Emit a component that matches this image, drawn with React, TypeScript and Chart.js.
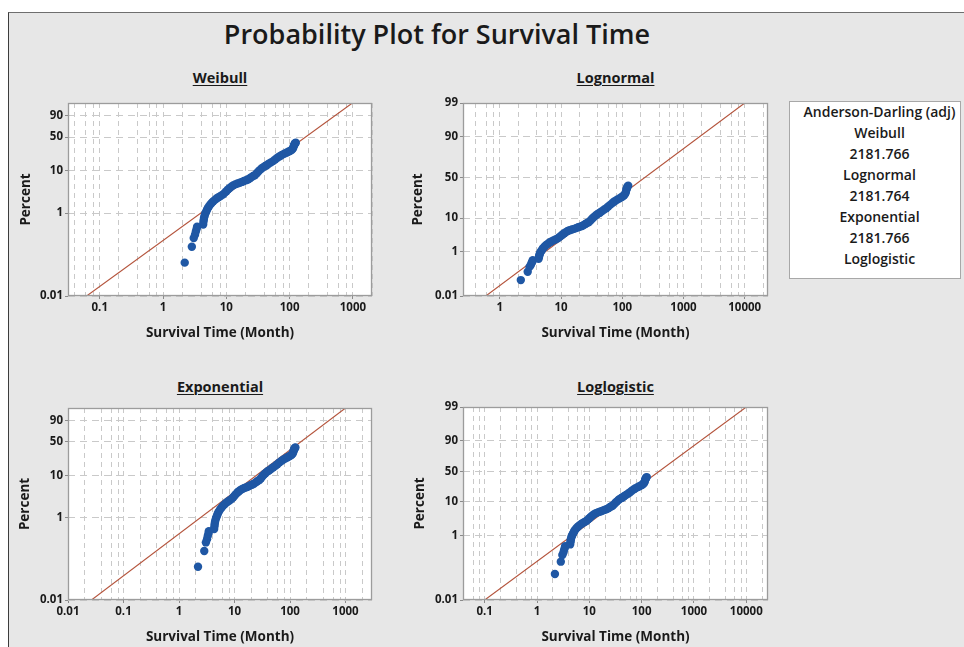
import React, { useEffect, useRef } from "react";
import { Chart, registerables, LinearScale } from "chart.js";

Chart.register(...registerables);

// ---------------- data ----------------
const SURVIVAL_TIME = [
  2.2, 2.85, 3.05, 3.2, 3.3, 3.4, 3.45,
  4.3, 4.35, 4.4, 4.45, 4.55, 4.65, 4.8, 4.95, 5.1, 5.3, 5.55, 5.85, 6.2, 6.6, 7.0, 7.5, 8.1, 8.8, 9.4,
  10.0, 10.6, 11.3, 12.0, 12.8, 13.8, 15.0, 16.3, 17.6, 19.0, 20.5, 22.0, 23.5, 25.0, 26.5, 28.1,
  30.0, 31.8, 33.7, 36.0, 38.5, 41.0, 43.0, 46.0, 50.0, 54.7, 59.0, 64.0, 69.7, 75.0, 82.0, 89.0,
  95.0, 101, 107, 111, 114, 116, 118, 120, 122, 125,
];
const PERCENT = [
  0.064, 0.155, 0.25, 0.3, 0.36, 0.42, 0.47,
  0.53, 0.62, 0.7, 0.78, 0.88, 0.98, 1.08, 1.2, 1.32, 1.45, 1.6, 1.75, 1.92, 2.08, 2.24, 2.4, 2.58, 2.78, 3.05,
  3.35, 3.66, 4.0, 4.3, 4.6, 4.85, 5.1, 5.3, 5.55, 5.85, 6.1, 6.35, 6.75, 7.2, 7.6, 7.9,
  8.7, 9.6, 10.4, 11.3, 12.2, 12.9, 13.3, 14.3, 15.4, 16.6, 18.0, 19.6, 21.2, 22.6, 24.0, 25.2,
  26.3, 27.3, 28.6, 30.0, 31.8, 34.3, 36.0, 37.5, 38.8, 39.7,
];

const MAIN_TITLE = "Probability Plot for Survival Time";
const X_TITLE = "Survival Time (Month)";
const Y_TITLE = "Percent";
const DISTRIBUTIONS = ["Weibull", "Lognormal", "Exponential", "Loglogistic"];
const AD_HEADER = "Anderson-Darling (adj)";
const AD_VALUES = ["2181.766", "2181.764", "2181.766"];

const Y_TICKS_SHORT = [0.01, 1, 10, 50, 90];
const Y_TICKS_LONG = [0.01, 1, 10, 50, 90, 99];
const X_TICKS_WEIBULL = [0.1, 1, 10, 100, 1000];
const X_TICKS_LOGNORMAL = [1, 10, 100, 1000, 10000];
const X_TICKS_EXPONENTIAL = [0.01, 0.1, 1, 10, 100, 1000];
const X_TICKS_LOGLOGISTIC = [0.1, 1, 10, 100, 1000, 10000];
const X_MINOR_MULTIPLIERS = [2, 4, 6, 8];

const X_RANGE_WEIBULL = [0.0315, 2000];
const X_RANGE_LOGNORMAL = [0.25, 24000];
const X_RANGE_EXPONENTIAL = [0.01, 3000];
const X_RANGE_LOGLOGISTIC = [0.0385, 26000];
const Y_RANGE = [0.01, 99];

// fitted lines (time, percent) at both ends
const FIT_WEIBULL_TIME = [0.062, 980];
const FIT_WEIBULL_PERCENT = [0.01, 99];
const FIT_LOGNORMAL_TIME = [0.59, 10000];
const FIT_LOGNORMAL_PERCENT = [0.01, 99];
const FIT_EXPONENTIAL_TIME = [0.0265, 1000];
const FIT_EXPONENTIAL_PERCENT = [0.01, 99];
const FIT_LOGLOGISTIC_TIME = [0.1, 10000];
const FIT_LOGLOGISTIC_PERCENT = [0.01, 99];

// ---------------- styles / layout ----------------
const FONT = "'Open Sans', 'Noto Sans', sans-serif";
const TEXT = "#1a1a1a";
const BG = "#e7e7e7";
const GRID = "#c9c9c9";
const FRAME = "#9c9c9c";
const POINT_COLOR = "#1f57a4";
const LINE_COLOR = "#b4533b";
const PAD_TOP = 10;
const PAD_RIGHT = 20;
const X_AXIS_HEIGHT = 45;
const AXIS_TITLE_SIZE = 13.5;
const TICK_SIZE = 11.5;

const LAYOUT = [
  { l: 68, r: 372, t: 103, b: 296, percentX: 26, titleY: 78.3 },
  { l: 463, r: 768, t: 103, b: 296, percentX: 418.5, titleY: 78.3 },
  { l: 68, r: 372, t: 408, b: 600, percentX: 25, titleY: 387.3 },
  { l: 463, r: 768, t: 407, b: 600, percentX: 420, titleY: 387.3 },
];

// ---------------- probability transforms ----------------
function normalQuantile(p: number): number {
  const a = [-3.969683028665376e1, 2.209460984245205e2, -2.759285104469687e2, 1.38357751867269e2, -3.066479806614716e1, 2.506628277459239];
  const b = [-5.447609879822406e1, 1.615858368580409e2, -1.556989798598866e2, 6.680131188771972e1, -1.328068155288572e1];
  const c = [-7.784894002430293e-3, -3.223964580411365e-1, -2.400758277161838, -2.549732539343734, 4.374664141464968, 2.938163982698783];
  const d = [7.784695709041462e-3, 3.224671290700398e-1, 2.445134137142996, 3.754408661907416];
  const pl = 0.02425;
  if (p < pl) {
    const q = Math.sqrt(-2 * Math.log(p));
    return (((((c[0] * q + c[1]) * q + c[2]) * q + c[3]) * q + c[4]) * q + c[5]) / ((((d[0] * q + d[1]) * q + d[2]) * q + d[3]) * q + 1);
  }
  if (p <= 1 - pl) {
    const q = p - 0.5;
    const r = q * q;
    return ((((((a[0] * r + a[1]) * r + a[2]) * r + a[3]) * r + a[4]) * r + a[5]) * q) / (((((b[0] * r + b[1]) * r + b[2]) * r + b[3]) * r + b[4]) * r + 1);
  }
  const q = Math.sqrt(-2 * Math.log(1 - p));
  return -(((((c[0] * q + c[1]) * q + c[2]) * q + c[3]) * q + c[4]) * q + c[5]) / ((((d[0] * q + d[1]) * q + d[2]) * q + d[3]) * q + 1);
}

const TRANSFORMS: Record<string, (p: number) => number> = {
  weibull: (p) => Math.log(-Math.log(1 - p / 100)),
  normal: (p) => normalQuantile(p / 100),
  logistic: (p) => Math.log(p / (100 - p)),
};

class ProbabilityScale extends LinearScale {
  static id = "probability";
  static defaults = {};
  determineDataLimits() {
    // @ts-ignore
    this.min = this.options.min;
    // @ts-ignore
    this.max = this.options.max;
  }
  buildTicks() {
    return [];
  }
  getPixelForValue(value: number) {
    // @ts-ignore
    const f = TRANSFORMS[this.options.probType];
    // @ts-ignore
    const lo = f(this.min);
    // @ts-ignore
    const hi = f(this.max);
    // @ts-ignore
    return this.getPixelForDecimal((f(value) - lo) / (hi - lo));
  }
  getValueForPixel(pixel: number) {
    // @ts-ignore
    const dec = this.getDecimalForPixel(pixel);
    // @ts-ignore
    let lo = this.min, hi = this.max;
    for (let i = 0; i < 50; i++) {
      const mid = (lo + hi) / 2;
      // @ts-ignore
      const dm = (this.getPixelForValue(mid) - this._startPixel) / this._length;
      // @ts-ignore
      const dd = this._reversePixels ? 1 - dm : dm;
      if (dd < dec) lo = mid; else hi = mid;
    }
    return (lo + hi) / 2;
  }
}
Chart.register(ProbabilityScale as any);

function buildLogTicks(min: number, max: number, majors: number[]) {
  const ticks: any[] = [];
  const k0 = Math.floor(Math.log10(min));
  const k1 = Math.ceil(Math.log10(max));
  for (let k = k0; k <= k1; k++) {
    for (const m of [1, ...X_MINOR_MULTIPLIERS]) {
      const v = m * Math.pow(10, k);
      if (v < min * 0.999 || v > max * 1.001) continue;
      const major = majors.find((t) => Math.abs(t - v) / t < 1e-6);
      ticks.push(major !== undefined ? { value: major, major: true } : { value: v, major: false });
    }
  }
  return ticks;
}

const PANELS = [
  { title: DISTRIBUTIONS[0], probType: "weibull", xRange: X_RANGE_WEIBULL, xTicks: X_TICKS_WEIBULL, yTicks: Y_TICKS_SHORT, fitT: FIT_WEIBULL_TIME, fitP: FIT_WEIBULL_PERCENT },
  { title: DISTRIBUTIONS[1], probType: "normal", xRange: X_RANGE_LOGNORMAL, xTicks: X_TICKS_LOGNORMAL, yTicks: Y_TICKS_LONG, fitT: FIT_LOGNORMAL_TIME, fitP: FIT_LOGNORMAL_PERCENT },
  { title: DISTRIBUTIONS[2], probType: "weibull", xRange: X_RANGE_EXPONENTIAL, xTicks: X_TICKS_EXPONENTIAL, yTicks: Y_TICKS_SHORT, fitT: FIT_EXPONENTIAL_TIME, fitP: FIT_EXPONENTIAL_PERCENT },
  { title: DISTRIBUTIONS[3], probType: "logistic", xRange: X_RANGE_LOGLOGISTIC, xTicks: X_TICKS_LOGLOGISTIC, yTicks: Y_TICKS_LONG, fitT: FIT_LOGLOGISTIC_TIME, fitP: FIT_LOGLOGISTIC_PERCENT },
];

const framePlugin = {
  id: "plotFrame",
  beforeDraw(chart: any) {
    const { ctx, chartArea } = chart;
    ctx.save();
    ctx.fillStyle = "#ffffff";
    ctx.fillRect(chartArea.left, chartArea.top, chartArea.right - chartArea.left, chartArea.bottom - chartArea.top);
    ctx.restore();
  },
  afterDraw(chart: any) {
    const { ctx, chartArea } = chart;
    ctx.save();
    ctx.strokeStyle = FRAME;
    ctx.lineWidth = 1.3;
    ctx.strokeRect(chartArea.left + 0.5, chartArea.top + 0.5, chartArea.right - chartArea.left - 1, chartArea.bottom - chartArea.top - 1);
    ctx.restore();
  },
};

function Panel({ panel, box }: { panel: any; box: any }) {
  const ref = useRef<HTMLCanvasElement | null>(null);
  const canvasLeft = Math.round(box.percentX - (AXIS_TITLE_SIZE * 1.2) / 2);
  const canvasTop = box.t - PAD_TOP;
  const width = box.r - canvasLeft + PAD_RIGHT;
  const height = PAD_TOP + (box.b - box.t) + X_AXIS_HEIGHT;
  const yAxisWidth = box.l - canvasLeft;

  useEffect(() => {
    if (!ref.current) return;
    const xTicks = buildLogTicks(panel.xRange[0], panel.xRange[1], panel.xTicks);
    const yTicks = panel.yTicks.map((v: number) => ({ value: v, major: true }));
    const points = SURVIVAL_TIME.map((t, i) => ({ x: t, y: PERCENT[i] }));
    const fit = panel.fitT.map((t: number, i: number) => ({ x: t, y: panel.fitP[i] }));
    const tickFont = { family: FONT, size: TICK_SIZE, weight: "700" };
    const titleFont = { family: FONT, size: AXIS_TITLE_SIZE, weight: "700" };
    const chart = new Chart(ref.current, {
      type: "scatter",
      data: {
        datasets: [
          {
            data: points,
            pointRadius: 4.2,
            pointHoverRadius: 4.2,
            pointBackgroundColor: POINT_COLOR,
            pointBorderColor: POINT_COLOR,
            pointBorderWidth: 0,
          },
          {
            type: "line",
            data: fit,
            borderColor: LINE_COLOR,
            borderWidth: 1.1,
            pointRadius: 0,
            fill: false,
            tension: 0,
          },
        ],
      } as any,
      options: {
        responsive: false,
        animation: false,
        devicePixelRatio: 1,
        events: [],
        layout: { padding: { top: PAD_TOP, right: PAD_RIGHT, left: 0, bottom: 0 } },
        plugins: { legend: { display: false }, tooltip: { enabled: false }, title: { display: false } },
        scales: {
          x: {
            type: "logarithmic",
            min: panel.xRange[0],
            max: panel.xRange[1],
            afterBuildTicks: (s: any) => {
              s.ticks = xTicks;
            },
            afterFit: (s: any) => {
              s.height = X_AXIS_HEIGHT;
            },
            ticks: {
              autoSkip: false,
              maxRotation: 0,
              minRotation: 0,
              padding: 2,
              color: TEXT,
              font: tickFont,
              callback: (_v: any, i: number, ticks: any[]) => (ticks[i].major ? String(ticks[i].value) : ""),
            },
            grid: {
              color: GRID,
              lineWidth: 1,
              tickLength: 3,
              tickColor: (ctx: any) => (ctx.tick && ctx.tick.major ? "#8a8a8a" : "rgba(0,0,0,0)"),
              tickBorderDash: [],
            },
            border: { display: false, dash: [5, 4] },
            title: { display: true, text: X_TITLE, color: TEXT, font: titleFont, padding: 0 },
          },
          y: {
            type: "probability",
            probType: panel.probType,
            min: Y_RANGE[0],
            max: Y_RANGE[1],
            afterBuildTicks: (s: any) => {
              s.ticks = yTicks;
            },
            afterFit: (s: any) => {
              s.width = yAxisWidth;
            },
            ticks: {
              autoSkip: false,
              padding: 2,
              color: TEXT,
              font: tickFont,
              callback: (_v: any, i: number, ticks: any[]) => String(ticks[i].value),
            },
            grid: {
              color: GRID,
              lineWidth: 1,
              tickLength: 3,
              tickColor: "#8a8a8a",
              tickBorderDash: [],
            },
            border: { display: false, dash: [7, 5] },
            title: { display: true, text: Y_TITLE, color: TEXT, font: titleFont, padding: 0 },
          },
        } as any,
      },
      plugins: [framePlugin],
    } as any);
    return () => chart.destroy();
  }, []);

  return (
    <canvas
      ref={ref}
      width={width}
      height={height}
      style={{ position: "absolute", left: canvasLeft, top: canvasTop, width, height }}
    />
  );
}

function capsTop(center: number, size: number) {
  return center - 0.531 * size;
}

export default function App() {
  const mainSize = 27;
  const panelTitleSize = 14.5;
  const legendSize = 14;
  const legendLines: string[] = [AD_HEADER];
  DISTRIBUTIONS.forEach((d, i) => {
    legendLines.push(d);
    if (AD_VALUES[i] !== undefined) legendLines.push(AD_VALUES[i]);
  });
  return (
    <div style={{ position: "absolute", left: 0, top: 0, width: 964, height: 647, background: "#ffffff", overflow: "hidden", fontFamily: FONT }}>
      <div
        style={{
          position: "absolute",
          left: 8,
          top: 12,
          width: 956,
          height: 635,
          background: BG,
          borderLeft: "1.5px solid #3c3c3c",
          borderTop: "1px solid #6e6e6e",
          boxSizing: "border-box",
        }}
      />
      <div
        style={{
          position: "absolute",
          left: 137,
          width: 600,
          top: capsTop(34, mainSize),
          fontSize: mainSize,
          lineHeight: mainSize + "px",
          fontWeight: 600,
          textAlign: "center",
          color: TEXT,
          whiteSpace: "nowrap",
        }}
      >
        {MAIN_TITLE}
      </div>
      {PANELS.map((p, i) => {
        const box = LAYOUT[i];
        const cx = (box.l + box.r) / 2;
        return (
          <React.Fragment key={p.title}>
            <div
              style={{
                position: "absolute",
                left: cx - 100,
                width: 200,
                top: capsTop(box.titleY, panelTitleSize),
                fontSize: panelTitleSize,
                lineHeight: panelTitleSize + "px",
                fontWeight: 700,
                textAlign: "center",
                color: TEXT,
              }}
            >
              <span style={{ textDecoration: "underline", textUnderlineOffset: 2, textDecorationThickness: 1.3 }}>{p.title}</span>
            </div>
            <Panel panel={p} box={box} />
          </React.Fragment>
        );
      })}
      <div
        style={{
          position: "absolute",
          left: 789,
          top: 101,
          width: 172,
          height: 178,
          boxSizing: "border-box",
          background: "#ffffff",
          border: "1px solid #a8a8a8",
          paddingTop: 0.4,
          paddingLeft: 9,
        }}
      >
        {legendLines.map((line, i) => (
          <div
            key={i}
            style={{
              fontSize: legendSize,
              lineHeight: "20.9px",
              height: 20.9,
              fontWeight: 600,
              textAlign: "center",
              color: TEXT,
              whiteSpace: "nowrap",
            }}
          >
            {line}
          </div>
        ))}
      </div>
    </div>
  );
}
